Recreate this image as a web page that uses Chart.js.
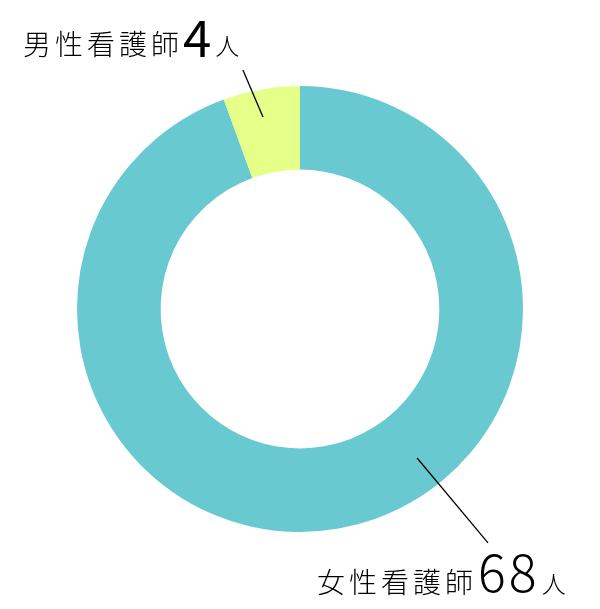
<!DOCTYPE html>
<html>
<head>
<meta charset="utf-8">
<script src="https://cdn.jsdelivr.net/npm/chart.js@4"></script>
<style>
  html, body { margin: 0; padding: 0; background: #fff; }
  #wrap { width: 600px; height: 609px; }
</style>
</head>
<body>
<div id="wrap"><canvas id="nurseChart"></canvas></div>
<script>
// data
const labels = ['女性看護師', '男性看護師'];
const counts = [68, 4];
const colors = ['#68C9D0', '#E5FF88'];

const jpFont = '"Noto Sans CJK JP", "Noto Sans", sans-serif';

// draw text one char at a time with extra spacing
function drawSpaced(ctx, str, x, y, font, spacing) {
  ctx.font = font;
  for (const ch of str) {
    ctx.fillText(ch, x, y);
    x += ctx.measureText(ch).width + spacing;
  }
  return x;
}

// labels with leader lines
const calloutPlugin = {
  id: 'callout',
  afterDraw(chart) {
    const ctx = chart.ctx;
    const arc = chart.getDatasetMeta(0).data[0];
    const cx = arc.x, cy = arc.y, R = arc.outerRadius;
    ctx.save();
    ctx.fillStyle = '#000';
    ctx.strokeStyle = '#000';
    ctx.lineWidth = 1.3;
    ctx.textBaseline = 'alphabetic';

    // 男性看護師4人
    ctx.beginPath();
    ctx.moveTo(cx - 0.166 * R, cy - 0.861 * R);
    ctx.lineTo(cx - 0.256 * R, cy - 1.072 * R);
    ctx.stroke();
    let x = drawSpaced(ctx, labels[1], 23, 55, '300 28px ' + jpFont, 4);
    x = drawSpaced(ctx, String(counts[1]), x, 57, '400 51px ' + jpFont, 0);
    drawSpaced(ctx, '人', x + 4, 55, '300 24px ' + jpFont, 0);

    // 女性看護師68人
    ctx.beginPath();
    ctx.moveTo(cx + 0.525 * R, cy + 0.668 * R);
    ctx.lineTo(cx + 0.843 * R, cy + 1.049 * R);
    ctx.stroke();
    x = drawSpaced(ctx, labels[0], 317, 593, '300 28px ' + jpFont, 4);
    x = drawSpaced(ctx, String(counts[0]), x + 1, 592, '300 52px ' + jpFont, 3);
    drawSpaced(ctx, '人', x + 2, 593, '300 24px ' + jpFont, 0);
    ctx.restore();
  }
};

new Chart(document.getElementById('nurseChart'), {
  type: 'doughnut',
  data: {
    labels: labels,
    datasets: [{
      data: counts,
      backgroundColor: colors,
      borderWidth: 0,
    }],
  },
  options: {
    responsive: true,
    maintainAspectRatio: false,
    animation: false,
    cutout: '62.5%',
    layout: { padding: { left: 77, right: 77, top: 86, bottom: 77 } },
    plugins: {
      legend: { display: false },
      tooltip: { enabled: false },
    },
  },
  plugins: [calloutPlugin],
});
</script>
</body>
</html>
